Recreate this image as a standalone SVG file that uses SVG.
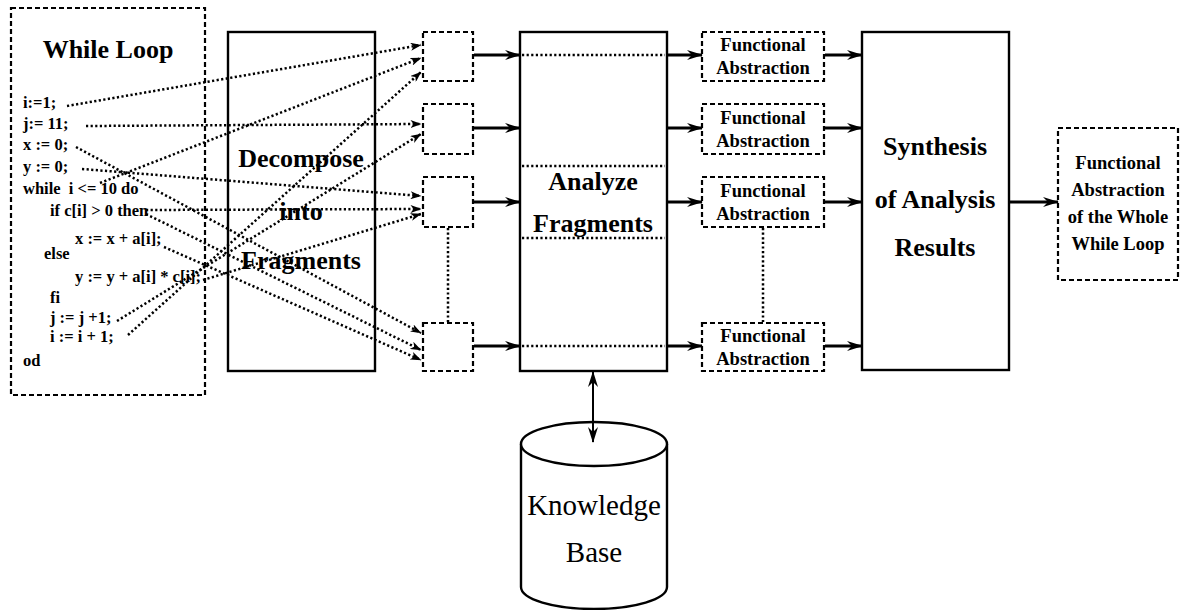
<svg xmlns="http://www.w3.org/2000/svg" width="1181" height="610" viewBox="0 0 1181 610">
  <style>
    .solid { fill: #fff; stroke: #000; stroke-width: 2.4; }
    .dashed { fill: #fff; stroke: #000; stroke-width: 2.2; stroke-dasharray: 5 3; }
    .dot { fill: none; stroke: #000; stroke-width: 2.5; stroke-dasharray: 2.2 2.4; }
    .arrow { fill: none; stroke: #000; stroke-width: 2.8; }
    .code { font-family: "Liberation Serif", "Times New Roman", serif; font-weight: bold; font-size: 16.5px; fill: #000; }
    .title { font-family: "Liberation Serif", "Times New Roman", serif; font-weight: bold; font-size: 26px; fill: #000; text-anchor: middle; }
    .fa { font-family: "Liberation Serif", "Times New Roman", serif; font-weight: bold; font-size: 18.5px; fill: #000; text-anchor: middle; }
    .kb { font-family: "Liberation Serif", "Times New Roman", serif; font-size: 29px; fill: #000; text-anchor: middle; }
  </style>
  <defs>
    <marker id="head" viewBox="0 0 16 10" refX="15" refY="5" markerWidth="16" markerHeight="10" markerUnits="userSpaceOnUse" orient="auto-start-reverse">
      <path d="M0,0 L16,5 L0,10 L5,5 Z" fill="#000"/>
    </marker>
    <marker id="tip" viewBox="0 0 11 8" refX="10.5" refY="4" markerWidth="11" markerHeight="8" markerUnits="userSpaceOnUse" orient="auto">
      <path d="M0,0 L11,4 L0,8 L3,4 Z" fill="#000"/>
    </marker>
  </defs>

  <rect width="1181" height="610" fill="#fff"/>

  <!-- source program -->
  <g id="while-loop">
    <rect class="dashed" x="11" y="8" width="194" height="387"/>
    <text class="title" x="108" y="58">While Loop</text>
    <g class="code">
      <text x="23" y="108">i:=1;</text>
      <text x="23" y="129">j:= 11;</text>
      <text x="23" y="150">x := 0;</text>
      <text x="23" y="172">y := 0;</text>
      <text x="23" y="194">while&#160; i &lt;= 10 do</text>
      <text x="50" y="216">if c[i] &gt; 0 then</text>
      <text x="75" y="244">x := x + a[i];</text>
      <text x="44" y="259">else</text>
      <text x="75" y="282">y := y + a[i] * c[i];</text>
      <text x="50" y="303">fi</text>
      <text x="50" y="323">j := j +1;</text>
      <text x="50" y="342">i := i + 1;</text>
      <text x="23" y="366">od</text>
    </g>
  </g>

  <g id="decompose">
    <rect class="solid" x="228" y="32" width="147" height="339"/>
    <text class="title" x="301" y="167">Decompose</text>
    <text class="title" x="301" y="220">into</text>
    <text class="title" x="301" y="269">Fragments</text>
  </g>

  <!-- program fragments -->
  <g id="fragment-1"><rect class="dashed" x="423" y="32" width="50" height="49"/></g>
  <g id="fragment-2"><rect class="dashed" x="423" y="104" width="50" height="50"/></g>
  <g id="fragment-3"><rect class="dashed" x="423" y="177" width="50" height="50"/></g>
  <g id="fragment-n"><rect class="dashed" x="423" y="323" width="50" height="48"/></g>

  <g id="analyze">
    <rect class="solid" x="520" y="32" width="147" height="339"/>
    <line class="dot" x1="522" y1="55" x2="665" y2="55"/>
    <line class="dot" x1="522" y1="166" x2="665" y2="166"/>
    <line class="dot" x1="522" y1="238" x2="665" y2="238"/>
    <line class="dot" x1="522" y1="346" x2="665" y2="346"/>
    <text class="title" x="593" y="190">Analyze</text>
    <text class="title" x="593" y="232">Fragments</text>
  </g>

  <!-- per-fragment abstractions -->
  <g id="abstraction-1">
    <rect class="dashed" x="702" y="32" width="122" height="49"/>
    <text class="fa" x="763" y="51">Functional</text>
    <text class="fa" x="763" y="74">Abstraction</text>
  </g>
  <g id="abstraction-2">
    <rect class="dashed" x="702" y="104" width="122" height="50"/>
    <text class="fa" x="763" y="124">Functional</text>
    <text class="fa" x="763" y="147">Abstraction</text>
  </g>
  <g id="abstraction-3">
    <rect class="dashed" x="702" y="177" width="122" height="50"/>
    <text class="fa" x="763" y="197">Functional</text>
    <text class="fa" x="763" y="220">Abstraction</text>
  </g>
  <g id="abstraction-n">
    <rect class="dashed" x="702" y="323" width="122" height="48"/>
    <text class="fa" x="763" y="342">Functional</text>
    <text class="fa" x="763" y="365">Abstraction</text>
  </g>

  <g id="synthesis">
    <rect class="solid" x="862" y="32" width="147" height="338"/>
    <text class="title" x="935" y="155">Synthesis</text>
    <text class="title" x="935" y="208">of Analysis</text>
    <text class="title" x="935" y="256">Results</text>
  </g>

  <g id="whole-abstraction">
    <rect class="dashed" x="1058" y="128" width="120" height="152"/>
    <text class="fa" x="1118" y="169">Functional</text>
    <text class="fa" x="1118" y="196">Abstraction</text>
    <text class="fa" x="1118" y="223">of the Whole</text>
    <text class="fa" x="1118" y="250">While Loop</text>
  </g>

  <g id="knowledge-base">
    <path class="solid" d="M521,444 L521,587 A73,22 0 0 0 667,587 L667,444"/>
    <ellipse class="solid" cx="594" cy="444" rx="73" ry="22"/>
    <text class="kb" x="594" y="515">Knowledge</text>
    <text class="kb" x="594" y="562">Base</text>
  </g>

  <g id="connectors">
    <!-- statements to fragments -->
    <g class="dot" marker-end="url(#tip)">
      <line x1="67" y1="106" x2="421" y2="45"/>
      <line x1="100" y1="183" x2="421" y2="58"/>
      <line x1="128" y1="335" x2="421" y2="72"/>
      <line x1="86" y1="126" x2="421" y2="124"/>
      <line x1="117" y1="321" x2="421" y2="134"/>
      <line x1="82" y1="169" x2="421" y2="196"/>
      <line x1="146" y1="210" x2="421" y2="209"/>
      <line x1="203" y1="280" x2="421" y2="214"/>
      <line x1="76" y1="147" x2="421" y2="333"/>
      <line x1="146" y1="214" x2="421" y2="350"/>
      <line x1="164" y1="247" x2="421" y2="360"/>
    </g>
    <!-- ellipsis links between stacked boxes -->
    <line class="dot" x1="448" y1="228" x2="448" y2="322"/>
    <line class="dot" x1="763" y1="228" x2="763" y2="322"/>
    <!-- stage-to-stage flow -->
    <g class="arrow" marker-end="url(#head)">
      <line x1="474" y1="55" x2="520" y2="55"/>
      <line x1="474" y1="128" x2="520" y2="128"/>
      <line x1="474" y1="202" x2="520" y2="202"/>
      <line x1="474" y1="346" x2="520" y2="346"/>
      <line x1="668" y1="55" x2="702" y2="55"/>
      <line x1="668" y1="128" x2="702" y2="128"/>
      <line x1="668" y1="202" x2="702" y2="202"/>
      <line x1="668" y1="346" x2="702" y2="346"/>
      <line x1="825" y1="55" x2="862" y2="55"/>
      <line x1="825" y1="128" x2="862" y2="128"/>
      <line x1="825" y1="202" x2="862" y2="202"/>
      <line x1="825" y1="346" x2="862" y2="346"/>
      <line x1="1010" y1="202" x2="1058" y2="202"/>
    </g>
    <line x1="593" y1="372" x2="593" y2="442" stroke="#000" stroke-width="2" marker-start="url(#head)" marker-end="url(#head)"/>
  </g>
</svg>
